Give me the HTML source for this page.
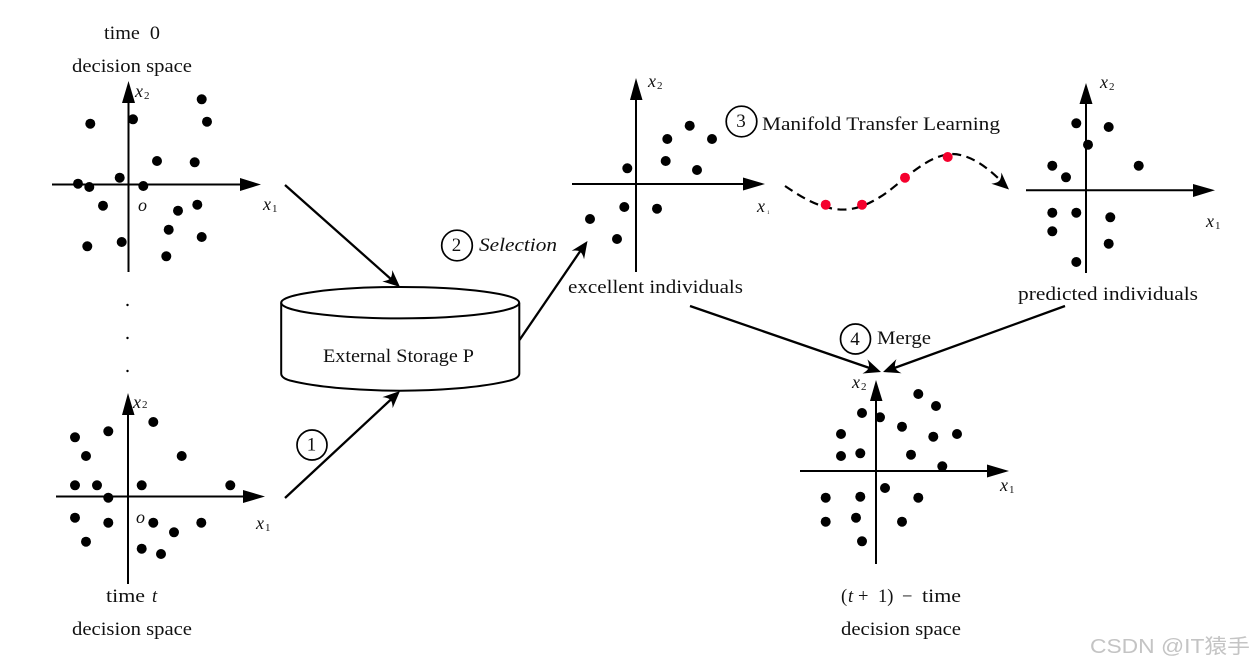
<!DOCTYPE html>
<html>
<head>
<meta charset="utf-8">
<style>
html,body{margin:0;padding:0;background:#fff;width:1253px;height:668px;overflow:hidden}
svg{display:block}
text{font-family:"Liberation Serif",serif;fill:#111;font-size:18.5px}
.i{font-style:italic}
.s{font-size:18px;font-style:italic}
.sub{font-size:11px}
.n{font-size:19px}
.ax{stroke:#000;stroke-width:2;fill:none}
.ar{stroke:#000;stroke-width:2.3;fill:none}
.c{fill:#fff;stroke:#000;stroke-width:2}
</style>
</head>
<body>
<svg width="1253" height="668" viewBox="0 0 1253 668" xmlns="http://www.w3.org/2000/svg">
<rect width="1253" height="668" fill="#fff"/>

<!-- Panel 1 -->
<path class="ax" d="M52 184.500H242M128.500 272V100"/>
<path d="M261 184.500L240 178V191Z M128.500 81L122 103H135Z"/>
<g>
<circle cx="90.300" cy="123.700" r="5"/><circle cx="133" cy="119.300" r="5"/><circle cx="201.700" cy="99.300" r="5"/><circle cx="207" cy="121.700" r="5"/><circle cx="157" cy="161" r="5"/><circle cx="194.700" cy="162.300" r="5"/><circle cx="119.700" cy="177.700" r="5"/><circle cx="78" cy="183.700" r="5"/><circle cx="89.300" cy="187" r="5"/><circle cx="143.300" cy="186" r="5"/><circle cx="103" cy="205.700" r="5"/><circle cx="197.300" cy="204.700" r="5"/><circle cx="178" cy="210.700" r="5"/><circle cx="168.700" cy="229.700" r="5"/><circle cx="201.700" cy="237" r="5"/><circle cx="121.700" cy="242" r="5"/><circle cx="87.300" cy="246.300" r="5"/><circle cx="166.300" cy="256.300" r="5"/>
</g>
<text x="104" y="39" textLength="56" lengthAdjust="spacingAndGlyphs">time&#160;&#160;0</text>
<text x="72" y="72" textLength="120" lengthAdjust="spacingAndGlyphs">decision space</text>
<text x="135" y="97" class="s">x</text><text x="144" y="99" class="sub">2</text>
<text x="263" y="210" class="s">x</text><text x="272" y="212" class="sub">1</text>
<text x="138" y="211" class="s">o</text>

<!-- dots between -->
<circle cx="127.500" cy="305" r="1.200"/><circle cx="127.500" cy="338" r="1.200"/><circle cx="127.500" cy="371" r="1.200"/>

<!-- Panel 2 -->
<path class="ax" d="M56 496.500H246M128 584V412"/>
<path d="M265 496.500L243 490V503Z M128 393L122 415H134.500Z"/>
<g>
<circle cx="75" cy="437.300" r="5"/><circle cx="108.300" cy="431.300" r="5"/><circle cx="153.300" cy="422" r="5"/><circle cx="86" cy="456" r="5"/><circle cx="181.700" cy="456" r="5"/><circle cx="75" cy="485.300" r="5"/><circle cx="97" cy="485.300" r="5"/><circle cx="141.700" cy="485.300" r="5"/><circle cx="230.300" cy="485.300" r="5"/><circle cx="108.300" cy="497.700" r="5"/><circle cx="75" cy="517.700" r="5"/><circle cx="108.300" cy="522.700" r="5"/><circle cx="153.300" cy="522.700" r="5"/><circle cx="201.300" cy="522.700" r="5"/><circle cx="174" cy="532.300" r="5"/><circle cx="86" cy="541.700" r="5"/><circle cx="141.700" cy="548.700" r="5"/><circle cx="161" cy="554" r="5"/>
</g>
<text x="133" y="408" class="s">x</text><text x="142" y="408" class="sub">2</text>
<text x="256" y="529" class="s">x</text><text x="265" y="531" class="sub">1</text>
<text x="136" y="523" class="s">o</text>
<text x="106" y="602" textLength="39" lengthAdjust="spacingAndGlyphs">time</text>
<text x="152" y="602" class="i">t</text>
<text x="72" y="635" textLength="120" lengthAdjust="spacingAndGlyphs">decision space</text>

<!-- Cylinder -->
<path class="c" d="M281.200 302.700V373.500Q281.200 378 290 380.500C320 388 365 390.700 400 390.700S480 388 510 380.500Q519.300 378 519.300 373.500V302.700"/>
<ellipse class="c" cx="400.200" cy="302.700" rx="119" ry="15.700"/>
<text x="323" y="362" textLength="151" lengthAdjust="spacingAndGlyphs">External Storage P</text>

<!-- Arrows -->
<path class="ar" d="M285 185L392 280"/>
<path transform="translate(400 287) rotate(41.600)" d="M0 0L-17 -7.500Q-13 -3 -13 0Q-13 3 -17 7.500Z"/>
<path class="ar" d="M285 498L392 398.500"/>
<path transform="translate(400 391) rotate(-42.900)" d="M0 0L-17 -7.500Q-13 -3 -13 0Q-13 3 -17 7.500Z"/>
<path class="ar" d="M519.500 340L581 250"/>
<path transform="translate(587.500 241) rotate(-55.500)" d="M0 0L-17 -7.500Q-13 -3 -13 0Q-13 3 -17 7.500Z"/>
<path class="ar" d="M690 306L871 368.500"/>
<path transform="translate(881 372) rotate(19.100)" d="M0 0L-17 -7.500Q-13 -3 -13 0Q-13 3 -17 7.500Z"/>
<path class="ar" d="M1065 306L893 368.500"/>
<path transform="translate(883 372) rotate(160.100)" d="M0 0L-17 -7.500Q-13 -3 -13 0Q-13 3 -17 7.500Z"/>

<!-- Circled numbers -->
<circle cx="312" cy="445" r="15" fill="none" stroke="#000" stroke-width="1.700"/>
<text x="311.500" y="450.500" text-anchor="middle" class="n">1</text>
<circle cx="457" cy="245.500" r="15.300" fill="none" stroke="#000" stroke-width="1.700"/>
<text x="456.500" y="251" text-anchor="middle" class="n">2</text>
<circle cx="741.500" cy="121.500" r="15.300" fill="none" stroke="#000" stroke-width="1.700"/>
<text x="741" y="127" text-anchor="middle" class="n">3</text>
<circle cx="855.500" cy="339" r="15" fill="none" stroke="#000" stroke-width="1.700"/>
<text x="855" y="345" text-anchor="middle" class="n">4</text>
<text x="479" y="251" class="i" textLength="78" lengthAdjust="spacingAndGlyphs">Selection</text>
<text x="762" y="130" textLength="238" lengthAdjust="spacingAndGlyphs">Manifold Transfer Learning</text>
<text x="877" y="344" textLength="54" lengthAdjust="spacingAndGlyphs">Merge</text>

<!-- Panel 3 -->
<path class="ax" d="M572 184H746M636 272V98"/>
<path d="M765 184L743 177.500V190.500Z M636 78L630 100H642.500Z"/>
<g>
<circle cx="667.300" cy="139" r="5"/><circle cx="689.700" cy="125.700" r="5"/><circle cx="712" cy="139" r="5"/><circle cx="665.700" cy="161" r="5"/><circle cx="627.300" cy="168.300" r="5"/><circle cx="697" cy="170" r="5"/><circle cx="624.300" cy="207" r="5"/><circle cx="657" cy="208.700" r="5"/><circle cx="590" cy="219" r="5"/><circle cx="617" cy="239" r="5"/>
</g>
<text x="648" y="87" class="s">x</text><text x="657" y="89" class="sub">2</text>
<text x="757" y="212" class="s">x</text><text x="767" y="214" style="font-size:5px">1</text>
<text x="568" y="293" textLength="175" lengthAdjust="spacingAndGlyphs">excellent individuals</text>

<!-- Manifold curve -->
<path d="M785 186C800 196 815 206 835 209C850 211 862 208 880 197C900 185 925 155 952 154C970 154 988 168 1000 180" fill="none" stroke="#000" stroke-width="2.200" stroke-dasharray="9 5.500"/>
<path transform="translate(1009 189.500) rotate(42)" d="M0 0L-17 -7.500Q-13 -3 -13 0Q-13 3 -17 7.500Z"/>
<circle cx="825.700" cy="204.700" r="5" fill="#f5002d"/><circle cx="862" cy="204.700" r="5" fill="#f5002d"/><circle cx="905" cy="177.700" r="5" fill="#f5002d"/><circle cx="947.700" cy="157" r="5" fill="#f5002d"/>

<!-- Panel 4 -->
<path class="ax" d="M1026 190.300H1196M1086 273V103"/>
<path d="M1215 190.300L1193 184V197Z M1086 83L1079.500 104H1092.500Z"/>
<g>
<circle cx="1076.300" cy="123.300" r="5"/><circle cx="1108.700" cy="127" r="5"/><circle cx="1088" cy="144.700" r="5"/><circle cx="1052.300" cy="165.700" r="5"/><circle cx="1138.700" cy="165.700" r="5"/><circle cx="1066" cy="177.300" r="5"/><circle cx="1052.300" cy="212.700" r="5"/><circle cx="1076.300" cy="212.700" r="5"/><circle cx="1110.300" cy="217.300" r="5"/><circle cx="1052.300" cy="231.300" r="5"/><circle cx="1108.700" cy="243.700" r="5"/><circle cx="1076.300" cy="262" r="5"/>
</g>
<text x="1100" y="88" class="s">x</text><text x="1109" y="90" class="sub">2</text>
<text x="1206" y="227" class="s">x</text><text x="1215" y="229" class="sub">1</text>
<text x="1018" y="300" textLength="180" lengthAdjust="spacingAndGlyphs">predicted individuals</text>

<!-- Panel 5 -->
<path class="ax" d="M800 471H990M876 564V400"/>
<path d="M1009 471L987 464.500V477.500Z M876 380L870 401H882.500Z"/>
<g>
<circle cx="918.300" cy="394" r="5"/><circle cx="936" cy="406" r="5"/><circle cx="862" cy="413" r="5"/><circle cx="880" cy="417.300" r="5"/><circle cx="902" cy="426.700" r="5"/><circle cx="841" cy="434" r="5"/><circle cx="933.300" cy="436.700" r="5"/><circle cx="957" cy="434" r="5"/><circle cx="841" cy="456" r="5"/><circle cx="860.300" cy="453.300" r="5"/><circle cx="911" cy="454.700" r="5"/><circle cx="942.300" cy="466.300" r="5"/><circle cx="885" cy="488" r="5"/><circle cx="825.700" cy="497.700" r="5"/><circle cx="860.300" cy="496.700" r="5"/><circle cx="918.300" cy="497.700" r="5"/><circle cx="825.700" cy="521.700" r="5"/><circle cx="856" cy="517.700" r="5"/><circle cx="902" cy="521.700" r="5"/><circle cx="862" cy="541.300" r="5"/>
</g>
<text x="852" y="388" class="s">x</text><text x="861" y="390" class="sub">2</text>
<text x="1000" y="491" class="s">x</text><text x="1009" y="493" class="sub">1</text>
<text x="841" y="602">(</text><text x="848" y="602" class="i">t</text><text x="858" y="602">+</text><text x="878" y="602">1)</text><text x="902" y="602">−</text>
<text x="922" y="602" textLength="39" lengthAdjust="spacingAndGlyphs">time</text>
<text x="841" y="635" textLength="120" lengthAdjust="spacingAndGlyphs">decision space</text>

<!-- Watermark -->
<text x="1090" y="653" style="font-family:'Liberation Sans','Noto Sans CJK SC',sans-serif;font-size:20px;fill:#c4c4c4" textLength="160" lengthAdjust="spacingAndGlyphs">CSDN @IT猿手</text>
</svg>
</body>
</html>
